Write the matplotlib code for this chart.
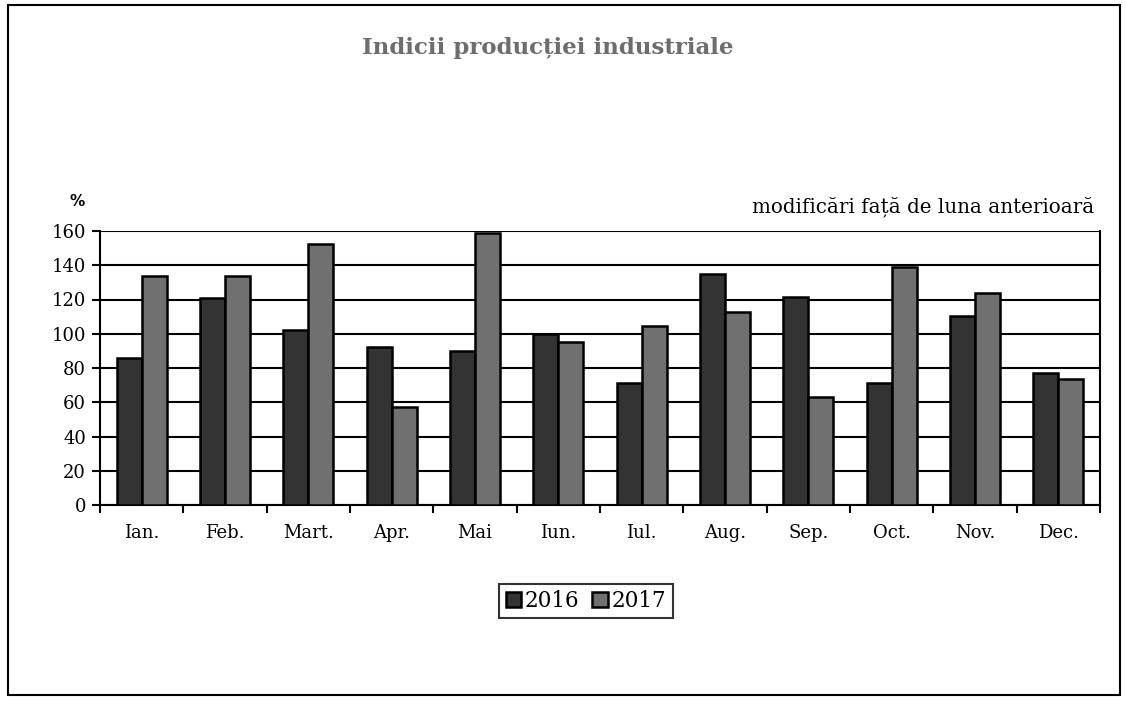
import matplotlib
matplotlib.use("Agg")
import matplotlib.pyplot as plt
import numpy as np
from matplotlib.patches import Rectangle

months = ["Ian.", "Feb.", "Mart.", "Apr.", "Mai", "Iun.", "Iul.", "Aug.", "Sep.", "Oct.", "Nov.", "Dec."]
v2016 = [86, 121, 102, 92, 90, 100, 71.5, 135, 121.5, 71.3, 110.5, 76.8]
v2017 = [134, 134, 152.5, 57, 159, 95, 104.5, 112.8, 63, 139, 123.8, 73.3]
yticks = [0, 20, 40, 60, 80, 100, 120, 140, 160]

serif = ["DejaVu Serif"]

fig = plt.figure(figsize=(11.26, 7.02), dpi=100)
fig.patch.set_facecolor("white")
# outer frame
fig.add_artist(Rectangle((8/1126, 7/702), (1120-8)/1126, (697-7)/702, transform=fig.transFigure,
                         fill=False, edgecolor="black", linewidth=1.5))

ax = fig.add_axes([100/1126, 1-505/702, 1000/1126, 274/702])
x = np.arange(len(months))
w = 0.3
ax.bar(x - w/2, v2016, width=w, color="#333333", edgecolor="black", linewidth=1.8, label="2016", zorder=3)
ax.bar(x + w/2, v2017, width=w, color="#707070", edgecolor="black", linewidth=1.8, label="2017", zorder=3)

ax.set_xlim(-0.5, 11.5)
ax.set_ylim(0, 160)
ax.set_yticks(yticks)
ax.set_yticklabels([str(t) for t in yticks], fontfamily=serif, fontsize=13)
ax.yaxis.grid(True, color="black", linewidth=1.5, zorder=0)
ax.set_axisbelow(True)

ax.set_xticks(np.arange(-0.5, 12, 1))
ax.set_xticklabels([])
ax.set_xticks(x, minor=True)
ax.set_xticklabels(months, minor=True, fontfamily=serif, fontsize=13)
ax.tick_params(axis="x", which="major", direction="out", length=6, width=1.5)
ax.tick_params(axis="x", which="minor", length=0, pad=14)
ax.tick_params(axis="y", direction="out", length=6, width=1.5, pad=4)

for s in ["left", "bottom", "right"]:
    ax.spines[s].set_linewidth(1.5)
ax.spines["top"].set_visible(False)

fig.text(548/1126, 1-48/702, "Indicii producției industriale", ha="center", va="center",
         fontfamily=serif, fontsize=16.5, fontweight="bold", color="#6d6d6d")
fig.text(77/1126, 1-202/702, "%", ha="center", va="center", fontfamily=["DejaVu Sans"],
         fontsize=11, fontweight="bold")
fig.text(1094/1126, 1-207/702, "modificări față de luna anterioară", ha="right", va="center",
         fontfamily=serif, fontsize=14.3)

leg = fig.legend(loc="center", bbox_to_anchor=(586/1126, 1-601/702), ncol=2, frameon=True,
                 fancybox=False, prop={"family": serif[0], "size": 15.5},
                 handlelength=0.7, handleheight=0.7, handletextpad=0.2, columnspacing=0.6,
                 borderpad=0.3)
leg.get_frame().set_edgecolor("black")
leg.get_frame().set_linewidth(1.5)

fig.savefig("out.png", dpi=100, facecolor="white")
